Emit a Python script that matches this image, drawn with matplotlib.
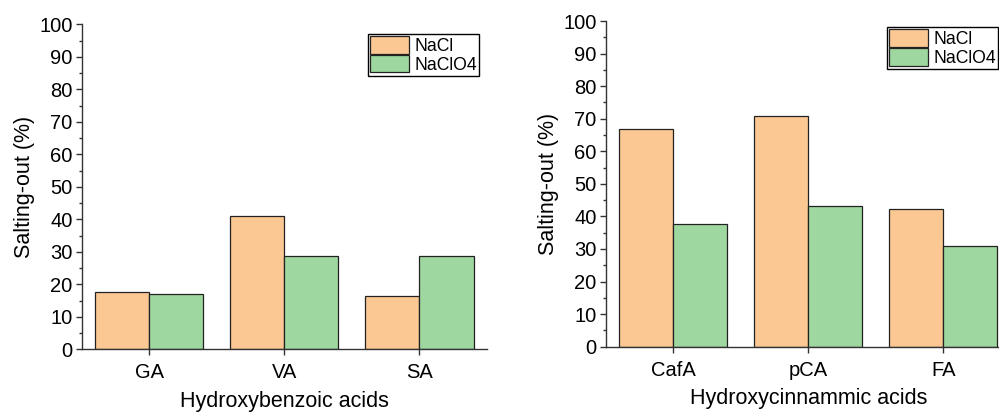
import matplotlib
matplotlib.use('Agg')
import numpy as np
import matplotlib.pyplot as plt
from matplotlib.ticker import MultipleLocator

plt.rcParams['font.family'] = ['Liberation Sans', 'DejaVu Sans']

# Hydroxybenzoic acids
benzoic = ['GA', 'VA', 'SA']
benzoic_nacl = [17.5, 41.0, 16.5]
benzoic_naclo4 = [16.9, 28.6, 28.8]

# Hydroxycinnamic acids
cinnamic = ['CafA', 'pCA', 'FA']
cinnamic_nacl = [66.9, 70.9, 42.4]
cinnamic_naclo4 = [37.8, 43.2, 31.0]

c_nacl = '#fbc793'
c_naclo4 = '#9ed79f'

fig = plt.figure(figsize=(9.99, 4.12), dpi=100)
ax1 = fig.add_axes([0.0818, 0.1522, 0.4057, 0.7888])
ax2 = fig.add_axes([0.6063, 0.1585, 0.4054, 0.7905])


def draw(ax, cats, v1, v2, xlabel, leg_anchor):
    x = np.arange(1, len(cats) + 1)
    w = 0.4
    b1 = ax.bar(x - w / 2, v1, w, color=c_nacl, edgecolor='#222222', linewidth=0.9, label='NaCl')
    b2 = ax.bar(x + w / 2, v2, w, color=c_naclo4, edgecolor='#222222', linewidth=0.9, label='NaClO4')
    ax.set_xlim(0.5, 3.5)
    ax.set_ylim(0, 100)
    ax.set_xticks(x)
    ax.set_xticklabels(cats)
    ax.yaxis.set_major_locator(MultipleLocator(10))
    ax.yaxis.set_minor_locator(MultipleLocator(5))
    ax.spines['top'].set_visible(False)
    ax.spines['right'].set_visible(False)
    for s in ['left', 'bottom']:
        ax.spines[s].set_linewidth(1.0)
        ax.spines[s].set_color('#333333')
    ax.tick_params(axis='both', which='major', direction='out', length=4, width=1.0,
                   labelsize=14.5, color='#333333')
    ax.tick_params(axis='y', which='minor', direction='out', length=2.5, width=1.0, color='#333333')
    ax.tick_params(axis='x', pad=6)
    ax.tick_params(axis='y', pad=2.5)
    ax.set_ylabel('Salting-out (%)', fontsize=15.5, labelpad=3)
    ax.set_xlabel(xlabel, fontsize=15.5, labelpad=6)
    fig.legend(handles=[b1, b2], loc='upper right', bbox_to_anchor=leg_anchor,
               fontsize=12.7, frameon=True, fancybox=False, edgecolor='black',
               handlelength=2.2, handleheight=1.15, labelspacing=0.0,
               handletextpad=0.3, borderpad=0.12, borderaxespad=0.0,
               framealpha=1)


draw(ax1, benzoic, benzoic_nacl, benzoic_naclo4, 'Hydroxybenzoic acids',
     (479.3 / 999, 1 - 34 / 412))
draw(ax2, cinnamic, cinnamic_nacl, cinnamic_naclo4, 'Hydroxycinnammic acids',
     (998.3 / 999, 1 - 27.3 / 412))

plt.savefig('out.png', dpi=100)
